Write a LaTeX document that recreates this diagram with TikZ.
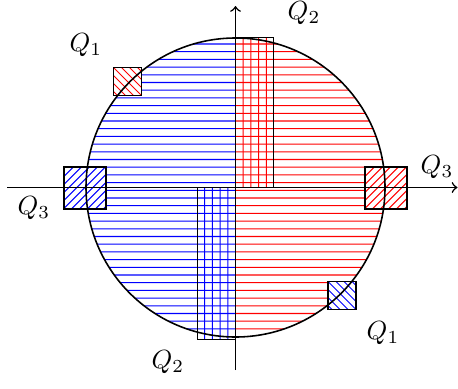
\documentclass[tikz,border=0pt]{standalone}
\begin{document}
\begin{tikzpicture}[
  x=0.3806pt, y=-0.3806pt,
  box/.style={semithick},
  hatch/.style={line width=0.4pt},
  lbl/.style={inner sep=0pt},
  axis/.style={semithick,->}
]
\definecolor{hblue}{RGB}{0,0,255}
\definecolor{hred}{RGB}{255,0,0}
\def\cx{235.5}
\def\cy{187.5}
\def\R{149.5}
\def\hw{0.52}
\useasboundingbox (0,0) rectangle (458,388);
% left half disk (blue)
\begin{scope}
\clip (80,0) rectangle (\cx,388);
\clip (\cx,\cy) circle (\R);
\fill[hblue] \foreach \k in {-20,...,20} {(80,{190.3+7.7*\k-\hw}) rectangle (\cx,{190.3+7.7*\k+\hw})};
\end{scope}
% right half disk (red)
\begin{scope}
\clip (\cx,0) rectangle (390,388);
\clip (\cx,\cy) circle (\R);
\fill[hred] \foreach \k in {-20,...,20} {(\cx,{190.3+7.7*\k-\hw}) rectangle (390,{190.3+7.7*\k+\hw})};
\end{scope}
% Q2 rectangles
\fill[hred] \foreach \j in {1,...,4} {({\cx+7.7*\j-\hw},37.5) rectangle ({\cx+7.7*\j+\hw},187.5)};
\draw[box] (235.5,37.5) rectangle (273.5,187.5);
\fill[hblue] \foreach \j in {1,...,4} {({\cx-7.7*\j-\hw},187.5) rectangle ({\cx-7.7*\j+\hw},339.5)};
\draw[box] (197.5,187.5) rectangle (235.5,339.5);
% Q3 squares
\fill[white] (365,167) rectangle (407,209);
\begin{scope}
\clip (365,167) rectangle (407,209);
\fill[hred] \foreach \c in {-48,-40,...,48} {(365+\c-0.75,209) -- ++(0.75,0) -- ++(50,-50) -- ++(-1.5,0) -- ++(-50,50) -- cycle};
\end{scope}
\draw[box] (365,167) rectangle (407,209);
\fill[white] (64,167) rectangle (106,209);
\begin{scope}
\clip (64,167) rectangle (106,209);
\fill[hblue] \foreach \c in {-48,-40,...,48} {(64+\c-0.75,209) -- ++(0.75,0) -- ++(50,-50) -- ++(-1.5,0) -- ++(-50,50) -- cycle};
\end{scope}
\draw[box] (64,167) rectangle (106,209);
% Q1 squares
\fill[white] (113.5,67.5) rectangle (141.5,95.5);
\begin{scope}
\clip (113.5,67.5) rectangle (141.5,95.5);
\draw[hatch,hred] \foreach \c in {-32,-24,...,32} {(113.5+\c,67.5) -- ++(35,35)};
\end{scope}
\draw[box] (113.5,67.5) rectangle (141.5,95.5);
\fill[white] (328,281.5) rectangle (356,309.5);
\begin{scope}
\clip (328,281.5) rectangle (356,309.5);
\draw[hatch,hblue] \foreach \c in {-32,-24,...,32} {(328+\c,281.5) -- ++(35,35)};
\end{scope}
\draw[box] (328,281.5) rectangle (356,309.5);
% circle
\draw[semithick] (\cx,\cy) circle (\R);
% axes
\coordinate (xs) at (7,\cy);
\coordinate (xe) at (457.5,\cy);
\coordinate (ys) at (\cx,370);
\coordinate (ye) at (\cx,6);
\draw[axis] (xs) -- (xe);
\draw[axis] (ys) -- (ye);
% labels
\node[lbl] (q1a) at (86,45) {$Q_1$};
\node[lbl] (q1b) at (383,333) {$Q_1$};
\node[lbl] (q2a) at (304,13) {$Q_2$};
\node[lbl] (q2b) at (168,362) {$Q_2$};
\node[lbl] (q3a) at (437,167) {$Q_3$};
\node[lbl] (q3b) at (34,208) {$Q_3$};
\end{tikzpicture}
\end{document}
